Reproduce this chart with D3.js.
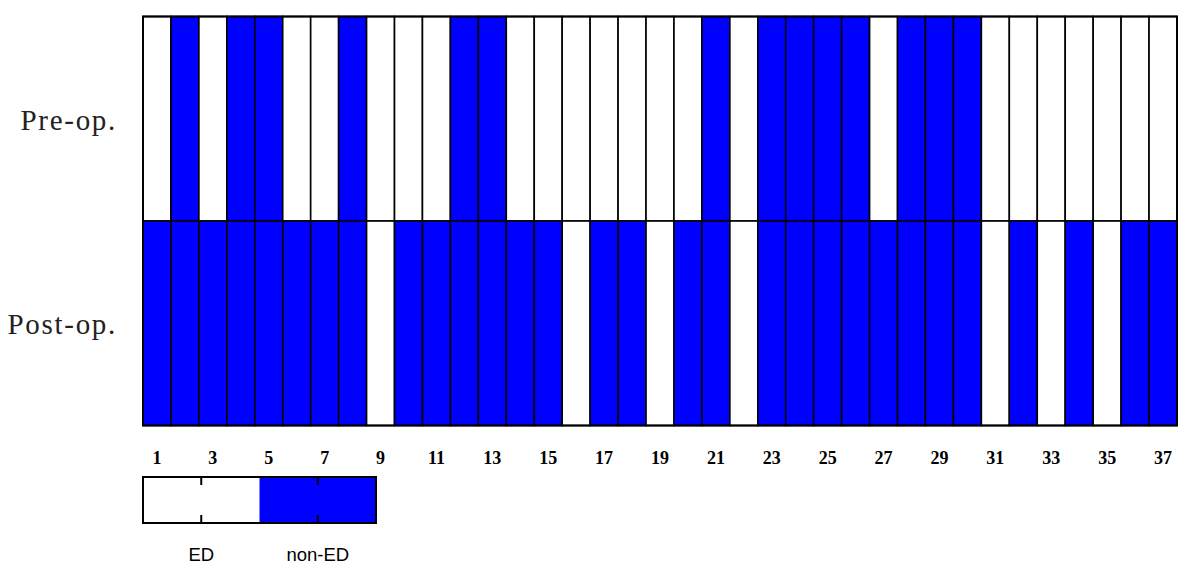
<html>
<script src="https://d3js.org/d3.v7.min.js"></script>
<style>
	body { margin: 0; background: #fff; }
</style>
<body>
	<svg width=1192 height=568></svg>
	<script>
		// patient numbers, 1 = non-ED, 0 = ED
		const patients = [1, 2, 3, 4, 5, 6, 7, 8, 9, 10, 11, 12, 13, 14, 15, 16, 17, 18, 19, 20,
			21, 22, 23, 24, 25, 26, 27, 28, 29, 30, 31, 32, 33, 34, 35, 36, 37];
		const rows = ["Pre-op.", "Post-op."];
		const preOp = [0, 1, 0, 1, 1, 0, 0, 1, 0, 0, 0, 1, 1, 0, 0, 0, 0, 0, 0, 0,
			1, 0, 1, 1, 1, 1, 0, 1, 1, 1, 0, 0, 0, 0, 0, 0, 0];
		const postOp = [1, 1, 1, 1, 1, 1, 1, 1, 0, 1, 1, 1, 1, 1, 1, 0, 1, 1, 0, 1,
			1, 0, 1, 1, 1, 1, 1, 1, 1, 1, 0, 1, 0, 1, 0, 1, 1];
		const tickLabels = [1, 3, 5, 7, 9, 11, 13, 15, 17, 19, 21, 23, 25, 27, 29, 31, 33, 35, 37];
		const legendKeys = ["ED", "non-ED"];

		const svg = d3.select("svg");
		const x0 = 143, x1 = 1177, y0 = 16.5, y1 = 425.5;

		const x = d3.scaleBand().domain(patients).range([x0, x1]);
		const y = d3.scaleBand().domain(rows).range([y0, y1]);
		const color = d3.scaleOrdinal().domain([0, 1]).range(["#ffffff", "#0000ff"]);

		const cells = [];
		patients.forEach((p, i) => {
			cells.push({ row: rows[0], p: p, v: preOp[i] });
			cells.push({ row: rows[1], p: p, v: postOp[i] });
		});

		svg.append("g")
			.selectAll("rect").data(cells).enter().append("rect")
			.attr("x", d => x(d.p))
			.attr("y", d => y(d.row))
			.attr("width", x.bandwidth())
			.attr("height", y.bandwidth())
			.attr("fill", d => color(d.v))
			.attr("stroke", "#000")
			.attr("stroke-width", 1.6);

		// outer frame
		svg.append("rect")
			.attr("x", x0).attr("y", y0)
			.attr("width", x1 - x0).attr("height", y1 - y0)
			.attr("fill", "none").attr("stroke", "#000").attr("stroke-width", 2);

		// row labels
		svg.append("g")
			.selectAll("text").data(rows).enter().append("text")
			.attr("x", 117)
			.attr("y", d => y(d) + y.bandwidth() / 2 + 11)
			.attr("text-anchor", "end")
			.style("font-family", "'Liberation Serif', serif")
			.style("font-size", "29px")
			.style("letter-spacing", "1.7px")
			.style("fill", "#222")
			.text(d => d);

		// patient numbers
		const xAxis = svg.append("g")
			.attr("transform", "translate(0," + 464 + ")")
			.call(d3.axisBottom(x).tickValues(tickLabels).tickSize(0).tickPadding(0));
		xAxis.select(".domain").remove();
		xAxis.selectAll("text")
			.attr("dy", 0)
			.style("font-family", "'Liberation Serif', serif")
			.style("font-weight", "bold")
			.style("font-size", "18px")
			.style("fill", "#000");

		// legend
		const lx = d3.scaleBand().domain(legendKeys).range([143, 376]);
		const leg = svg.append("g");
		leg.selectAll("rect").data(legendKeys).enter().append("rect")
			.attr("x", d => lx(d))
			.attr("y", 477)
			.attr("width", lx.bandwidth())
			.attr("height", 46)
			.attr("fill", (d, i) => color(i));
		leg.append("rect")
			.attr("x", 143).attr("y", 477)
			.attr("width", 233).attr("height", 46)
			.attr("fill", "none").attr("stroke", "#000").attr("stroke-width", 2);
		leg.selectAll("line.t").data(legendKeys).enter().append("line")
			.attr("class", "t")
			.attr("x1", d => lx(d) + lx.bandwidth() / 2)
			.attr("x2", d => lx(d) + lx.bandwidth() / 2)
			.attr("y1", 477).attr("y2", 485)
			.attr("stroke", "#000").attr("stroke-width", 2);
		leg.selectAll("line.b").data(legendKeys).enter().append("line")
			.attr("class", "b")
			.attr("x1", d => lx(d) + lx.bandwidth() / 2)
			.attr("x2", d => lx(d) + lx.bandwidth() / 2)
			.attr("y1", 515).attr("y2", 523)
			.attr("stroke", "#000").attr("stroke-width", 2);
		leg.selectAll("text").data(legendKeys).enter().append("text")
			.attr("x", d => lx(d) + lx.bandwidth() / 2)
			.attr("y", 561)
			.attr("text-anchor", "middle")
			.style("font-family", "'Liberation Sans', Arial, sans-serif")
			.style("font-size", "18.5px")
			.text(d => d);
	</script>
</body>
</html>
